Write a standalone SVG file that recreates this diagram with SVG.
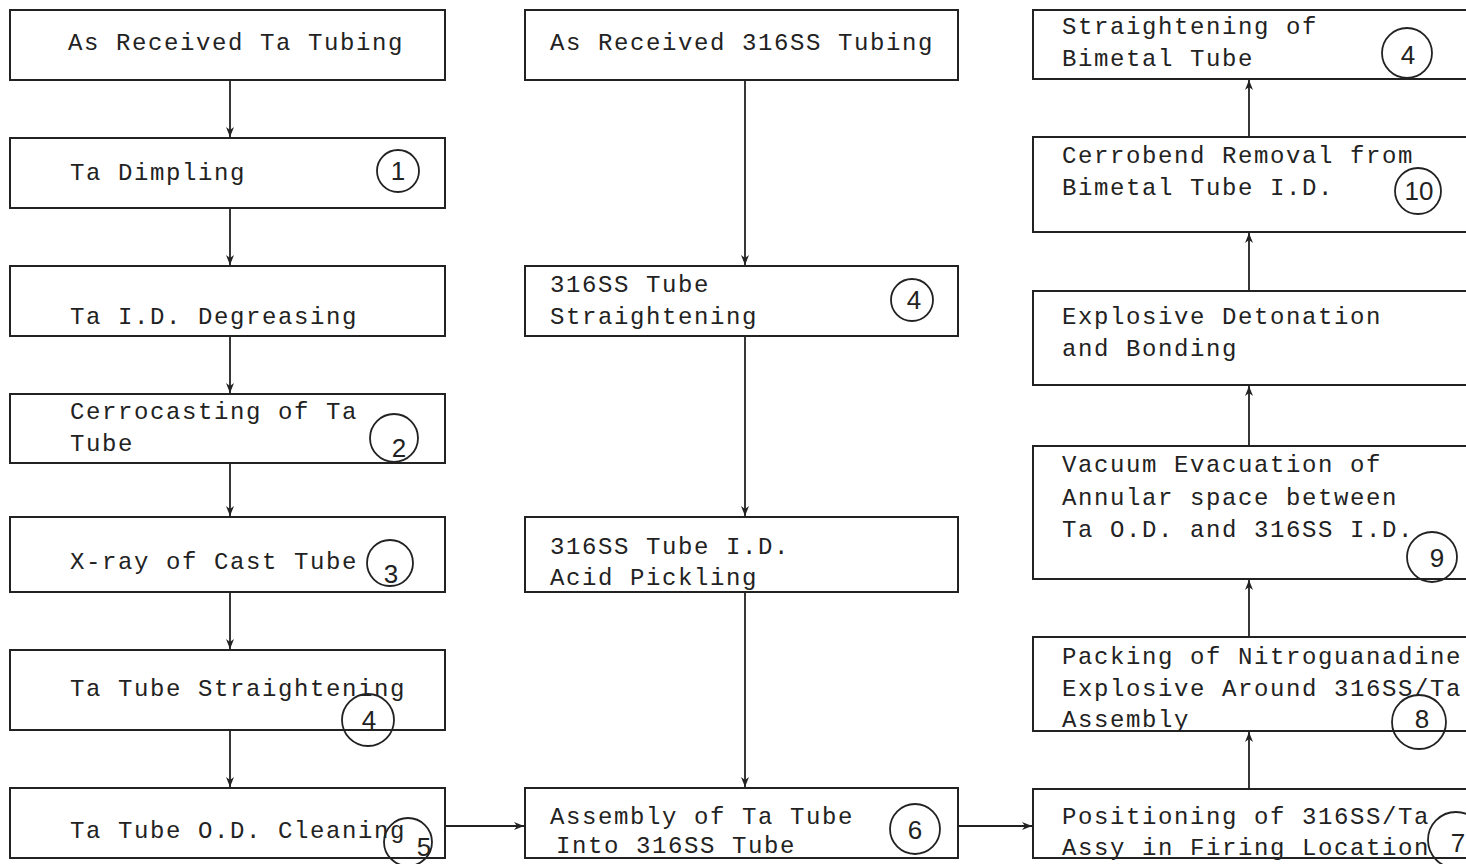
<svg xmlns="http://www.w3.org/2000/svg" width="1466" height="864" viewBox="0 0 1466 864">
<style>
.box{fill:none;stroke:#222;stroke-width:2}
.t{font-family:"Liberation Mono",monospace;font-size:24px;letter-spacing:1.6px;fill:#222}
.c{fill:none;stroke:#222;stroke-width:1.8}
.n{font-family:"Liberation Sans",sans-serif;font-size:26px;fill:#222;text-anchor:middle}
.ln{stroke:#222;stroke-width:1.8;fill:none}
</style>
<defs>
<marker id="ah" markerWidth="12" markerHeight="12" refX="10" refY="5" orient="auto" markerUnits="userSpaceOnUse">
<path d="M0,1 L10,5 L0,9 L3,5 Z" fill="#222"/>
</marker>
</defs>
<rect width="1466" height="864" fill="#fff"/>
<g id="connectors">
<line class="ln" x1="230" y1="80" x2="230" y2="137" marker-end="url(#ah)"/>
<line class="ln" x1="230" y1="208" x2="230" y2="265" marker-end="url(#ah)"/>
<line class="ln" x1="230" y1="336" x2="230" y2="393" marker-end="url(#ah)"/>
<line class="ln" x1="230" y1="463" x2="230" y2="516" marker-end="url(#ah)"/>
<line class="ln" x1="230" y1="592" x2="230" y2="649" marker-end="url(#ah)"/>
<line class="ln" x1="230" y1="730" x2="230" y2="787" marker-end="url(#ah)"/>
<line class="ln" x1="745" y1="80" x2="745" y2="265" marker-end="url(#ah)"/>
<line class="ln" x1="745" y1="336" x2="745" y2="516" marker-end="url(#ah)"/>
<line class="ln" x1="745" y1="592" x2="745" y2="787" marker-end="url(#ah)"/>
<line class="ln" x1="446" y1="826" x2="524" y2="826" marker-end="url(#ah)"/>
<line class="ln" x1="959" y1="826" x2="1032" y2="826" marker-end="url(#ah)"/>
<line class="ln" x1="1249" y1="789" x2="1249" y2="732" marker-end="url(#ah)"/>
<line class="ln" x1="1249" y1="637" x2="1249" y2="580" marker-end="url(#ah)"/>
<line class="ln" x1="1249" y1="446" x2="1249" y2="386" marker-end="url(#ah)"/>
<line class="ln" x1="1249" y1="291" x2="1249" y2="233" marker-end="url(#ah)"/>
<line class="ln" x1="1249" y1="137" x2="1249" y2="80" marker-end="url(#ah)"/>
</g>
<g id="n-ta-received"><rect class="box" x="10" y="10" width="435" height="70"/><text class="t" x="68" y="50">As Received Ta Tubing</text></g>
<g id="n-ta-dimpling"><rect class="box" x="10" y="138" width="435" height="70"/><text class="t" x="70" y="180">Ta Dimpling</text><circle class="c" cx="398" cy="171" r="21"/><text class="n" x="398" y="180">1</text></g>
<g id="n-ta-degreasing"><rect class="box" x="10" y="266" width="435" height="70"/><text class="t" x="70" y="324">Ta I.D. Degreasing</text></g>
<g id="n-cerrocasting"><rect class="box" x="10" y="394" width="435" height="69"/><text class="t" x="70" y="419">Cerrocasting of Ta</text><text class="t" x="70" y="451">Tube</text><circle class="c" cx="394" cy="438" r="24"/><text class="n" x="399" y="457">2</text></g>
<g id="n-xray"><rect class="box" x="10" y="517" width="435" height="75"/><text class="t" x="70" y="569">X-ray of Cast Tube</text><circle class="c" cx="390" cy="563" r="23"/><text class="n" x="391" y="583">3</text></g>
<g id="n-ta-straight"><rect class="box" x="10" y="650" width="435" height="80"/><text class="t" x="70" y="696">Ta Tube Straightening</text><circle class="c" cx="368" cy="720" r="26"/><text class="n" x="369" y="729">4</text></g>
<g id="n-ta-od"><rect class="box" x="10" y="788" width="435" height="70"/><text class="t" x="70" y="838">Ta Tube O.D. Cleaning</text><circle class="c" cx="408" cy="842" r="24"/><text class="n" x="424" y="856">5</text></g>
<g id="n-ss-received"><rect class="box" x="525" y="10" width="433" height="70"/><text class="t" x="550" y="50">As Received 316SS Tubing</text></g>
<g id="n-ss-straight"><rect class="box" x="525" y="266" width="433" height="70"/><text class="t" x="550" y="292">316SS Tube</text><text class="t" x="550" y="324">Straightening</text><circle class="c" cx="912" cy="300" r="21"/><text class="n" x="914" y="309">4</text></g>
<g id="n-ss-pickling"><rect class="box" x="525" y="517" width="433" height="75"/><text class="t" x="550" y="554">316SS Tube I.D.</text><text class="t" x="550" y="585">Acid Pickling</text></g>
<g id="n-assembly"><rect class="box" x="525" y="788" width="433" height="70"/><text class="t" x="550" y="824">Assembly of Ta Tube</text><text class="t" x="556" y="853">Into 316SS Tube</text><circle class="c" cx="915" cy="829" r="25"/><text class="n" x="915" y="839">6</text></g>
<g id="n-bimetal-straight"><rect class="box" x="1033" y="10" width="440" height="69"/><text class="t" x="1062" y="34">Straightening of</text><text class="t" x="1062" y="66">Bimetal Tube</text><circle class="c" cx="1407" cy="53" r="25"/><text class="n" x="1408" y="64">4</text></g>
<g id="n-cerrobend"><rect class="box" x="1033" y="137" width="440" height="95"/><text class="t" x="1062" y="163">Cerrobend Removal from</text><text class="t" x="1062" y="195">Bimetal Tube I.D.</text><circle class="c" cx="1418" cy="191" r="23"/><text class="n" x="1419" y="200">10</text></g>
<g id="n-detonation"><rect class="box" x="1033" y="291" width="440" height="94"/><text class="t" x="1062" y="324">Explosive Detonation</text><text class="t" x="1062" y="356">and Bonding</text></g>
<g id="n-vacuum"><rect class="box" x="1033" y="446" width="440" height="133"/><text class="t" x="1062" y="472">Vacuum Evacuation of</text><text class="t" x="1062" y="505">Annular space between</text><text class="t" x="1062" y="537">Ta O.D. and 316SS I.D.</text><circle class="c" cx="1432" cy="557" r="25"/><text class="n" x="1437" y="567">9</text></g>
<g id="n-packing"><rect class="box" x="1033" y="637" width="440" height="94"/><text class="t" x="1062" y="664">Packing of Nitroguanadine</text><text class="t" x="1062" y="696">Explosive Around 316SS/Ta</text><text class="t" x="1062" y="727">Assembly</text><circle class="c" cx="1419" cy="722" r="27"/><text class="n" x="1422" y="728">8</text></g>
<g id="n-positioning"><rect class="box" x="1033" y="789" width="440" height="69"/><text class="t" x="1062" y="824">Positioning of 316SS/Ta</text><text class="t" x="1062" y="855">Assy in Firing Location</text><circle class="c" cx="1456" cy="840" r="28"/><text class="n" x="1458" y="852">7</text></g>
</svg>
